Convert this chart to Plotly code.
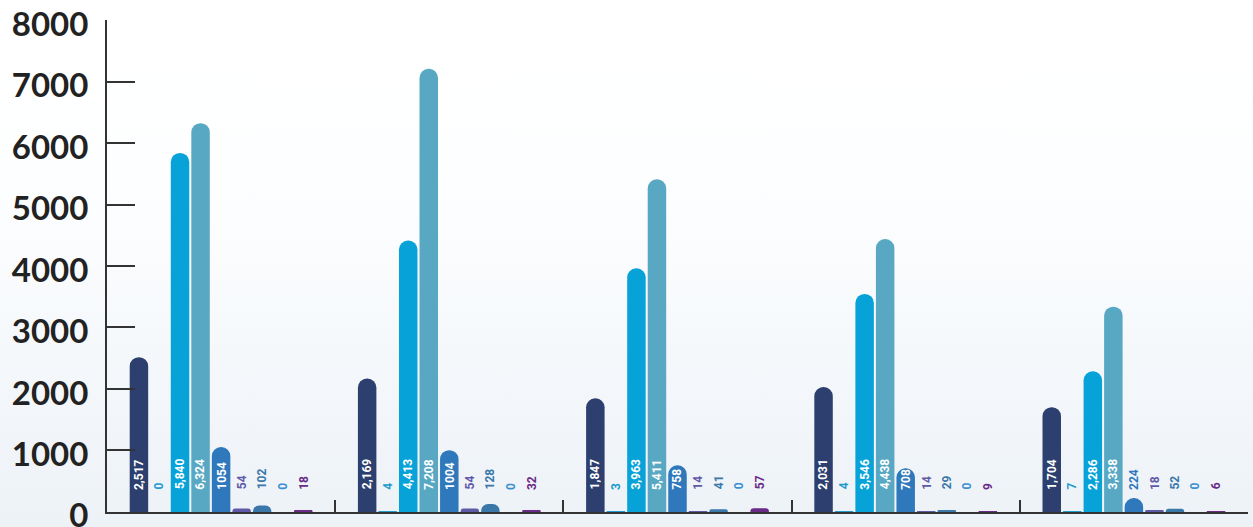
import base64
import plotly.graph_objects as go

# Five groups of nine series
groups = [0, 1, 2, 3, 4]
series_values = [
    [2517, 2169, 1847, 2031, 1704],
    [0, 4, 3, 4, 7],
    [5840, 4413, 3963, 3546, 2286],
    [6324, 7208, 5411, 4438, 3338],
    [1054, 1004, 758, 708, 224],
    [54, 54, 14, 14, 18],
    [102, 128, 41, 29, 52],
    [0, 0, 0, 0, 0],
    [18, 32, 57, 9, 6],
]
series_colors = ["#2c3f6e", "#1e9bcc", "#07a3d8", "#58a8c4", "#2f78bb",
                 "#5f5aa8", "#3a78aa", "#3a90d0", "#6a2a88"]
series_comma = [True, False, True, True, False, False, False, False, False]
y_ticks = [0, 1000, 2000, 3000, 4000, 5000, 6000, 7000, 8000]

BARGAP = 0.19
GROUPGAP = 0.1
n_series = len(series_values)

fig = go.Figure()
for i, vals in enumerate(series_values):
    fig.add_trace(go.Bar(
        x=groups, y=vals,
        marker=dict(color=series_colors[i], cornerradius=9, line=dict(width=0)),
        showlegend=False, hoverinfo="skip",
    ))

# Rotated value labels near the base of each bar
slot = (1 - BARGAP) / n_series
annotations = []
for i, vals in enumerate(series_values):
    offset = -(1 - BARGAP) / 2 + slot * (i + 0.5)
    for g, v in zip(groups, vals):
        txt = f"{v:,}" if series_comma[i] else f"{v}"
        inside = v >= 600
        annotations.append(dict(
            x=g + offset, y=330, xref="x", yref="y",
            text=txt, showarrow=False, textangle=-90,
            xanchor="center", yanchor="bottom",
            font=dict(family="Roboto", size=12, weight="bold",
                      color="white" if inside else series_colors[i]),
        ))

# Soft vertical background wash
svg = ('<svg xmlns="http://www.w3.org/2000/svg" width="10" height="100" preserveAspectRatio="none">'
       '<defs><linearGradient id="g" x1="0" y1="0" x2="0" y2="1">'
       '<stop offset="0" stop-color="#ffffff"/><stop offset="0.35" stop-color="#fdfeff"/>'
       '<stop offset="1" stop-color="#edf2f7"/></linearGradient></defs>'
       '<rect width="10" height="100" fill="url(#g)"/></svg>')
bg_src = "data:image/svg+xml;base64," + base64.b64encode(svg.encode()).decode()

W, H = 1253, 527
ML, MR, MT, MB = 107, 5, 20, 15
pw, ph = W - ML - MR, H - MT - MB

fig.update_layout(
    width=W, height=H,
    margin=dict(l=ML, r=MR, t=MT, b=MB, pad=0, autoexpand=False),
    barmode="group", bargap=BARGAP, bargroupgap=GROUPGAP,
    paper_bgcolor="white", plot_bgcolor="rgba(0,0,0,0)",
    annotations=annotations,
    images=[dict(source=bg_src, xref="paper", yref="paper",
                 x=-ML / pw, y=1 + MT / ph, sizex=W / pw, sizey=H / ph,
                 xanchor="left", yanchor="top", sizing="stretch", layer="below")],
    xaxis=dict(range=[-0.5, 4.5], showgrid=False, zeroline=False, automargin=False,
               showline=True, linecolor="#333", linewidth=2,
               tickmode="array", tickvals=[-0.5, 0.5, 1.5, 2.5, 3.5, 4.5],
               ticks="inside", ticklen=12, tickwidth=1.5, tickcolor="#333",
               showticklabels=False),
    yaxis=dict(range=[-2, 8002], showgrid=False, zeroline=False, automargin=False,
               showline=True, linecolor="#333", linewidth=2,
               tickmode="array", tickvals=y_ticks,
               ticks="inside", ticklen=28, tickwidth=2, tickcolor="#333",
               ticklabelstandoff=10, ticklabelshift=4, ticklabeloverflow="allow",
               tickfont=dict(family="Lato", size=33, weight="bold", color="#222")),
)

fig.write_html("out.html")
